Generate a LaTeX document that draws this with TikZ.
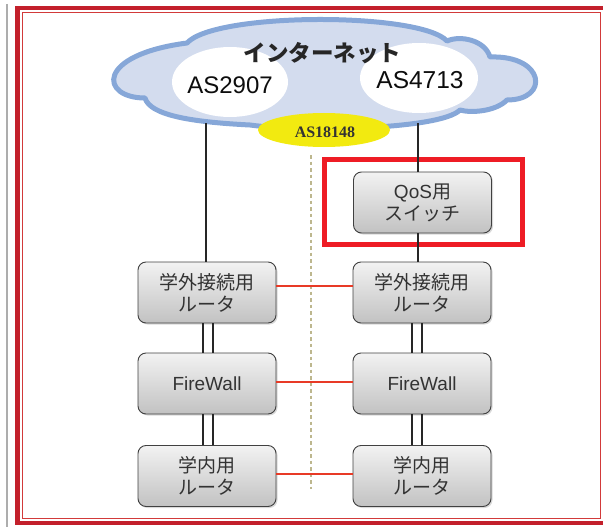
\documentclass[tikz,border=0pt]{standalone}
\usepackage{fontspec}
\setmainfont{Liberation Sans}
\newfontfamily\cjk{Noto Sans CJK JP}
\newfontfamily\serifb{Liberation Serif}
\usetikzlibrary{shadows}
\definecolor{framered}{HTML}{C3202B}
\definecolor{thinred}{HTML}{D23A3A}
\definecolor{hlred}{HTML}{EE1C25}
\definecolor{linkred}{HTML}{E83A26}
\definecolor{cloudfill}{HTML}{D3DCEE}
\definecolor{cloudline}{HTML}{86A7D8}
\definecolor{asyellow}{HTML}{F2EA10}
\definecolor{dashkhaki}{HTML}{BDB78E}
\tikzset{
  devbox/.style={draw=black!75, line width=0.9pt, rounded corners=8pt,
    top color=black!5, bottom color=black!24,
    minimum width=138pt, minimum height=61pt, align=center,
    text=black!80, font=\fontsize{19}{22}\selectfont,
    drop shadow={shadow xshift=1.5pt, shadow yshift=-1.5pt, opacity=0.3}},
  jbox/.style={devbox, font=\cjk\fontsize{19}{22}\selectfont},
  wire/.style={draw=black!85, line width=1.5pt},
  redlink/.style={draw=linkred, line width=1.3pt},
  asbubble/.style={ellipse, fill=white, inner sep=0pt},
}
\usetikzlibrary{shapes.geometric}
\begin{document}
\begin{tikzpicture}[x=1pt,y=-1pt]
\useasboundingbox (0,0) rectangle (603,527);
% page frame
\draw[black!32, line width=1.2pt] (7,4) -- (7,527);
\draw[framered, line width=4.4pt] (17.5,8) rectangle (612,523);
\draw[thinred, line width=1pt] (22,12.5) rectangle (600.5,518);
% cloud
\draw[fill=cloudfill, draw=cloudline, line width=5pt, line join=round]
  (145,98) .. controls (100,98) and (95,55) .. (187,43)
  .. controls (215,12) and (420,12) .. (447,41)
  .. controls (460,35) and (485,40) .. (490,57)
  .. controls (545,55) and (550,100) .. (507,100)
  .. controls (495,112) and (470,113) .. (460,110)
  .. controls (440,130) and (300,132) .. (250,125)
  .. controls (190,122) and (150,115) .. (145,98) -- cycle;
\node[asbubble, minimum width=116pt, minimum height=70pt] (e1) at (230,82) {};
\node[asbubble, minimum width=118pt, minimum height=70pt] (e2) at (419,78) {};
\node[font=\cjk\bfseries\fontsize{22.5}{26}\selectfont, text=black!85] (inet) at (322.5,53) {インターネット};
\node[font=\fontsize{24}{28}\selectfont, text=black!95] (as1) at (230,85) {AS2907};
\node[font=\fontsize{24.5}{28}\selectfont, text=black!95] (as2) at (420,80) {AS4713};
\node[ellipse, fill=asyellow, minimum width=132pt, minimum height=34pt, inner sep=0pt] (yel) at (324,130) {};
\node[font=\serifb\bfseries\fontsize{16}{18}\selectfont, text=black!80] (as3) at (325,132) {AS18148};
% divider
\coordinate (dtop) at (311,155);
\coordinate (dbot) at (311,489);
\draw[dashkhaki, line width=1.1pt, dash pattern=on 3.5pt off 3pt] (dtop) -- (dbot);
% boxes
\node[devbox] (qos) at (422.5,202.5) {QoS{\cjk 用}\\{\cjk スイッチ}};
\node[jbox] (r1) at (207,292.5) {学外接続用\\ルータ};
\node[jbox] (r2) at (422,292.5) {学外接続用\\ルータ};
\node[devbox] (f1) at (207,383.5) {FireWall};
\node[devbox] (f2) at (422,383.5) {FireWall};
\node[jbox] (i1) at (207,476) {学内用\\ルータ};
\node[jbox] (i2) at (422,476) {学内用\\ルータ};
% highlight
\node[draw=hlred, line width=5pt, minimum width=198pt, minimum height=85pt, inner sep=0pt] (hl) at (423.5,202) {};
% uplinks
\coordinate (c1) at (206,123);
\coordinate (c2) at (418,123);
\draw[wire] (c1) -- (c1 |- r1.north);
\draw[wire] (c2) -- (c2 |- qos.north);
\draw[wire] ([xshift=-4.5pt]qos.south) -- ([xshift=-4pt]r2.north);
% double links
\draw[wire] ([xshift=-4pt]r1.south) -- ([xshift=-4pt]f1.north);
\draw[wire] ([xshift=6pt]r1.south) -- ([xshift=6pt]f1.north);
\draw[wire] ([xshift=-4pt]f1.south) -- ([xshift=-4pt]i1.north);
\draw[wire] ([xshift=6pt]f1.south) -- ([xshift=6pt]i1.north);
\draw[wire] ([xshift=-10pt]r2.south) -- ([xshift=-10pt]f2.north);
\draw[wire] ([xshift=0pt]r2.south) -- ([xshift=0pt]f2.north);
\draw[wire] ([xshift=-10pt]f2.south) -- ([xshift=-10pt]i2.north);
\draw[wire] ([xshift=0pt]f2.south) -- ([xshift=0pt]i2.north);
% cross links
\draw[redlink] ([yshift=6.5pt]r1.east) -- ([yshift=6.5pt]r2.west);
\draw[redlink] ([yshift=1.5pt]f1.east) -- ([yshift=1.5pt]f2.west);
\draw[redlink] ([yshift=2pt]i1.east) -- ([yshift=2pt]i2.west);
\end{tikzpicture}
\end{document}
